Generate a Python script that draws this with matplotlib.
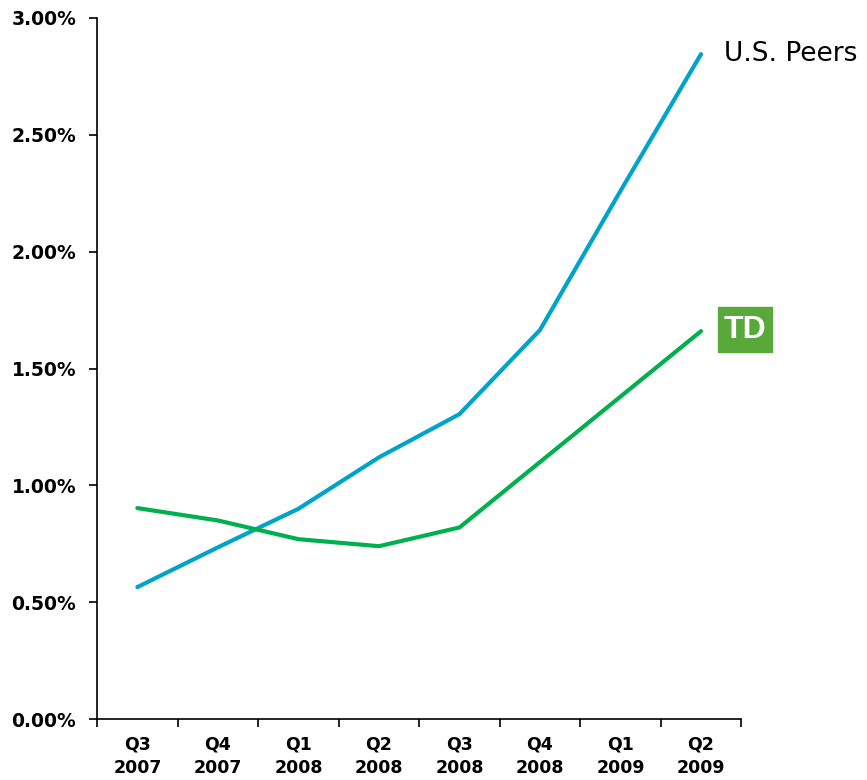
import matplotlib
matplotlib.use('Agg')
import matplotlib.pyplot as plt
from matplotlib.patches import Rectangle

quarters = ['Q3\n2007', 'Q4\n2007', 'Q1\n2008', 'Q2\n2008',
            'Q3\n2008', 'Q4\n2008', 'Q1\n2009', 'Q2\n2009']
us_peers = [0.565, 0.735, 0.90, 1.12, 1.305, 1.665, 2.26, 2.845]
td_bank = [0.903, 0.85, 0.77, 0.74, 0.82, 1.10, 1.38, 1.66]
y_ticks = [0, 0.5, 1.0, 1.5, 2.0, 2.5, 3.0]

blue = '#00a3c9'
green = '#00b04c'

fig = plt.figure(figsize=(8.67, 7.8), dpi=100)
ax = fig.add_axes([0.112, 0.078, 0.743, 0.899])

x = [i + 0.5 for i in range(len(quarters))]
ax.plot(x, us_peers, color=blue, lw=3, solid_capstyle='round')
ax.plot(x, td_bank, color=green, lw=3, solid_capstyle='round')

ax.set_xlim(0, len(quarters))
ax.set_ylim(0, 3.0)
ax.set_yticks(y_ticks)
ax.set_yticklabels(['%.2f%%' % v for v in y_ticks],
                   fontfamily='DejaVu Sans', fontweight='bold', fontsize=13.5)
ax.set_xticks(range(len(quarters) + 1))
ax.set_xticklabels([])
ax.set_xticks(x, minor=True)
ax.set_xticklabels(quarters, minor=True, fontfamily='DejaVu Sans',
                   fontweight='bold', fontsize=12.5, linespacing=1.35)
ax.tick_params(axis='x', which='minor', length=0, pad=12)
ax.tick_params(axis='x', which='major', length=6, width=1.2, direction='out')
ax.tick_params(axis='y', length=6, width=1.2, direction='out', pad=9)

for s in ['top', 'right']:
    ax.spines[s].set_visible(False)
for s in ['left', 'bottom']:
    ax.spines[s].set_linewidth(1.2)

# series label
ax.text(x[-1] + 0.28, us_peers[-1], 'U.S. Peers', fontsize=19,
        fontfamily='DejaVu Sans', va='center', ha='left')

# TD logo box
fig.patches.append(Rectangle((718 / 867, 1 - 352 / 780), 54 / 867, 45 / 780,
                             transform=fig.transFigure, color='#59a83a'))
fig.text(745 / 867, 1 - 330 / 780, 'TD', color='white', fontsize=23,
         fontweight='bold', fontfamily='Liberation Sans', ha='center', va='center')

fig.savefig('out.png', dpi=100)
